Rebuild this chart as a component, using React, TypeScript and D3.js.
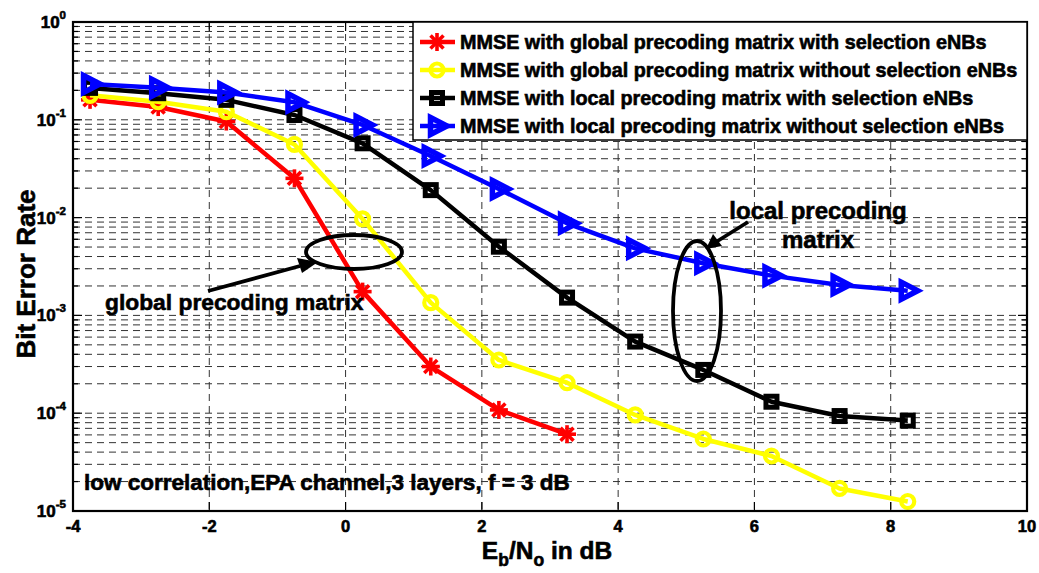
import React from "react";
import * as d3 from "d3";

// Eb/No sample points (dB)
const snr = [-3.75, -2.75, -1.75, -0.75, 0.25, 1.25, 2.25, 3.25, 4.25, 5.25, 6.25, 7.25, 8.25];

// Bit error rate per scheme
const berGlobalSel = [0.16, 0.135, 0.096, 0.0252, 0.00175, 3.0e-4, 1.08e-4, 6.1e-5];
const berGlobalNoSel = [0.178, 0.153, 0.121, 0.056, 0.0097, 1.35e-3, 3.5e-4, 2.05e-4, 9.6e-5, 5.45e-5, 3.65e-5, 1.7e-5, 1.25e-5];
const berLocalSel = [0.212, 0.187, 0.16, 0.112, 0.0575, 0.0191, 5.04e-3, 1.52e-3, 5.4e-4, 2.77e-4, 1.31e-4, 9.35e-5, 8.4e-5];
const berLocalNoSel = [0.232, 0.213, 0.19, 0.151, 0.0885, 0.0427, 0.0196, 8.74e-3, 4.85e-3, 3.41e-3, 2.55e-3, 2.05e-3, 1.79e-3];

const legendLabels = [
  "MMSE with global precoding matrix with selection eNBs",
  "MMSE with global precoding matrix without selection eNBs",
  "MMSE with local precoding matrix with selection eNBs",
  "MMSE with local precoding matrix without selection eNBs",
];

const xTicks = [-4, -2, 0, 2, 4, 6, 8, 10];
const yDecades = [0, -1, -2, -3, -4, -5];

const FONT = "'Liberation Sans', Arial, Helvetica, sans-serif";

type Marker = "star" | "circle" | "square" | "triangle";

const seriesList: { values: number[]; color: string; marker: Marker }[] = [
  { values: berGlobalSel, color: "#ff0000", marker: "star" },
  { values: berGlobalNoSel, color: "#ffff00", marker: "circle" },
  { values: berLocalSel, color: "#000000", marker: "square" },
  { values: berLocalNoSel, color: "#0000ff", marker: "triangle" },
];

function MarkerShape({ kind, x, y, color }: { kind: Marker; x: number; y: number; color: string }) {
  if (kind === "star") {
    const r = 9;
    const d = r * 0.72;
    return (
      <g stroke={color} strokeWidth={3.6} strokeLinecap="butt">
        <line x1={x - r} y1={y} x2={x + r} y2={y} />
        <line x1={x} y1={y - r} x2={x} y2={y + r} />
        <line x1={x - d} y1={y - d} x2={x + d} y2={y + d} />
        <line x1={x - d} y1={y + d} x2={x + d} y2={y - d} />
      </g>
    );
  }
  if (kind === "circle") {
    return <circle cx={x} cy={y} r={6.5} fill="none" stroke={color} strokeWidth={4.2} />;
  }
  if (kind === "square") {
    return <rect x={x - 5.5} y={y - 5.5} width={11} height={11} fill="none" stroke={color} strokeWidth={5} />;
  }
  const p = `M${x - 6.5},${y - 8.5} L${x + 10},${y} L${x - 6.5},${y + 8.5} Z`;
  return <path d={p} fill="none" stroke={color} strokeWidth={5.5} strokeLinejoin="miter" />;
}

export default function App() {
  const width = 1039;
  const height = 573;
  const left = 73;
  const right = 1027;
  const top = 22;
  const bottom = 511;

  const x = d3.scaleLinear().domain([-4, 10]).range([left, right]);
  const y = d3.scaleLog().domain([1e-5, 1]).range([bottom, top]);

  const line = d3
    .line<number>()
    .x((_, i) => x(snr[i]))
    .y((v) => y(v));

  // decade and minor log positions
  const minorVals: number[] = [];
  for (let e = -5; e < 0; e++) {
    for (let m = 2; m <= 9; m++) minorVals.push(m * Math.pow(10, e));
  }
  const decadeVals = yDecades.map((e) => Math.pow(10, e));

  const gridDash = "7,5";
  const gridColor = "#333";
  const heavy = { stroke: "#000", strokeWidth: 0.6, paintOrder: "stroke" as const };

  return (
    <svg
      width={width}
      height={height}
      style={{ position: "absolute", left: 0, top: 0, background: "#fff" }}
      fontFamily={FONT}
      fontWeight="bold"
    >
      <rect x={0} y={0} width={width} height={height} fill="#fff" />

      {/* grid */}
      <g stroke={gridColor} strokeWidth={1} strokeDasharray={gridDash} fill="none">
        {[...minorVals, ...decadeVals].map((v, i) => (
          <line key={`gy${i}`} x1={left} x2={right} y1={y(v)} y2={y(v)} />
        ))}
        {xTicks.map((t) => (
          <line key={`gx${t}`} x1={x(t)} x2={x(t)} y1={top} y2={bottom} />
        ))}
      </g>

      {/* ticks */}
      <g stroke="#000" strokeWidth={1.2}>
        {minorVals.map((v, i) => (
          <g key={`mt${i}`}>
            <line x1={left} x2={left + 5} y1={y(v)} y2={y(v)} />
            <line x1={right} x2={right - 5} y1={y(v)} y2={y(v)} />
          </g>
        ))}
        {decadeVals.map((v, i) => (
          <g key={`dt${i}`}>
            <line x1={left} x2={left + 9} y1={y(v)} y2={y(v)} />
            <line x1={right} x2={right - 9} y1={y(v)} y2={y(v)} />
          </g>
        ))}
        {xTicks.map((t) => (
          <g key={`xt${t}`}>
            <line x1={x(t)} x2={x(t)} y1={bottom} y2={bottom - 9} />
            <line x1={x(t)} x2={x(t)} y1={top} y2={top + 9} />
          </g>
        ))}
      </g>

      {/* data */}
      {seriesList.map((s, si) => (
        <g key={`s${si}`}>
          <path d={line(s.values) ?? ""} fill="none" stroke={s.color} strokeWidth={4.5} strokeLinejoin="round" />
          {s.values.map((v, i) => (
            <MarkerShape key={i} kind={s.marker} x={x(snr[i])} y={y(v)} color={s.color} />
          ))}
        </g>
      ))}

      {/* axes box */}
      <rect x={left} y={top} width={right - left} height={bottom - top} fill="none" stroke="#000" strokeWidth={2.2} />

      {/* y tick labels */}
      {yDecades.map((e) => (
        <text key={`yl${e}`} x={left - 7} y={y(Math.pow(10, e)) + 6} textAnchor="end" fontSize={17} {...heavy}>
          10<tspan dy={-9} fontSize={11.5}>{e}</tspan>
        </text>
      ))}
      {/* x tick labels */}
      {xTicks.map((t) => (
        <text key={`xl${t}`} x={x(t)} y={bottom + 21} textAnchor="middle" fontSize={16.5} {...heavy}>
          {t}
        </text>
      ))}

      {/* axis titles */}
      <text x={547} y={559} textAnchor="middle" fontSize={24.5} {...heavy}>
        E<tspan dy={7} fontSize={17.5}>b</tspan>
        <tspan dy={-7}>/N</tspan>
        <tspan dy={7} fontSize={17.5}>o</tspan>
        <tspan dy={-7}> in dB</tspan>
      </text>
      <text transform={`translate(35,274) rotate(-90)`} textAnchor="middle" fontSize={26} {...heavy}>
        Bit Error Rate
      </text>

      {/* legend */}
      <g>
        <rect x={413} y={top} width={right - 413} height={118} fill="#fff" stroke="#000" strokeWidth={1.5} />
        {seriesList.map((s, i) => {
          const ly = 42 + i * 28;
          return (
            <g key={`lg${i}`}>
              <line x1={420} x2={455} y1={ly} y2={ly} stroke={s.color} strokeWidth={4.5} />
              <MarkerShape kind={s.marker} x={437} y={ly} color={s.color} />
              <text x={460} y={ly + 7} fontSize={19.8} {...heavy}>
                {legendLabels[i]}
              </text>
            </g>
          );
        })}
      </g>

      {/* annotations */}
      <g fill="none" stroke="#000" strokeWidth={3.8}>
        <ellipse cx={354} cy={252} rx={48} ry={17} />
        <ellipse cx={697} cy={311} rx={24} ry={70} />
        <line x1={208} y1={291} x2={300} y2={266} />
        <line x1={748} y1={222} x2={716} y2={242} />
      </g>
      <path d="M318,262 L297,258 L302,273 Z" fill="#000" />
      <path d="M706,249 L713,234 L722,246 Z" fill="#000" />
      <text x={105} y={310} fontSize={22.8} {...heavy}>global precoding matrix</text>
      <text x={818} y={219} textAnchor="middle" fontSize={24} {...heavy}>local precoding</text>
      <text x={818} y={248} textAnchor="middle" fontSize={24} {...heavy}>matrix</text>
      <text x={84} y={490} fontSize={22.5} {...heavy}>low correlation,EPA channel,3 layers, f = 3 dB</text>
    </svg>
  );
}
